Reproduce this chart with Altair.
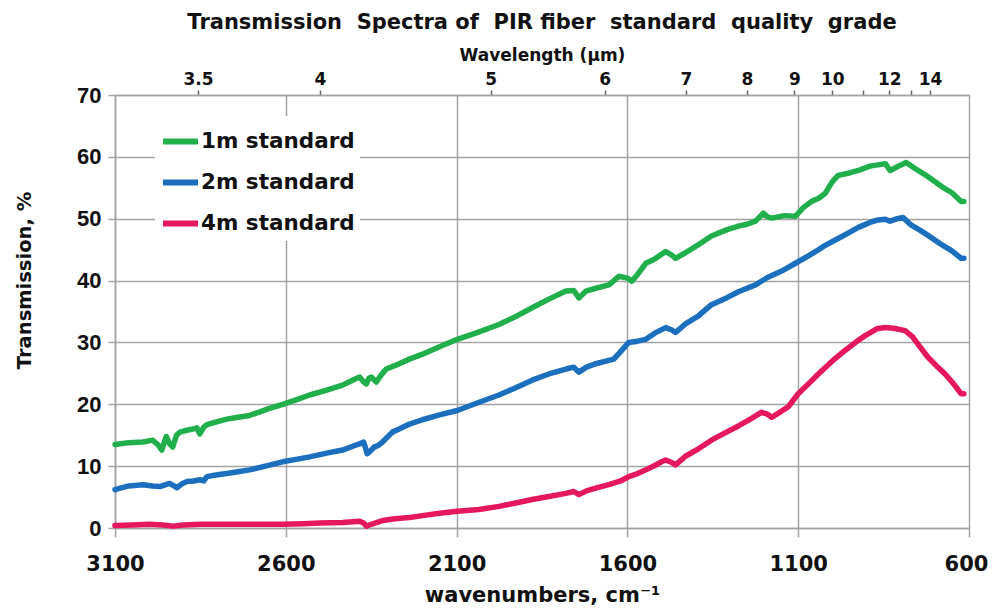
import altair as alt
import pandas as pd

# ---------------- data ----------------
series_names = ["1m standard", "2m standard", "4m standard"]
series_colors = ["#20af4b", "#1b6fbe", "#e5185e"]

wn_1m = [3100, 3060, 3018, 2990, 2975, 2963, 2950, 2940, 2931, 2920, 2910, 2890, 2872, 2860, 2852,
         2840, 2831, 2800, 2773, 2740, 2706, 2680, 2650, 2609, 2570, 2530, 2480, 2434, 2400, 2384,
         2372, 2364, 2357, 2350, 2335, 2320, 2306, 2270, 2238, 2200, 2150, 2098, 2040, 1976, 1930,
         1879, 1830, 1780, 1757, 1742, 1721, 1690, 1654, 1625, 1600, 1587, 1570, 1546, 1520, 1488,
         1470, 1459, 1430, 1392, 1354, 1310, 1275, 1250, 1225, 1202, 1190, 1178, 1140, 1108, 1085,
         1061, 1040, 1021, 1000, 983, 950, 924, 890, 866, 845, 831, 810, 784, 760, 720, 680, 650, 623, 615]
t_1m = [13.5, 13.8, 13.9, 14.2, 13.5, 12.6, 14.8, 13.6, 13.1, 15.0, 15.5, 15.8, 16.0, 16.2, 15.2,
        16.3, 16.7, 17.2, 17.6, 17.9, 18.2, 18.7, 19.3, 20.0, 20.7, 21.5, 22.3, 23.1, 24.0, 24.4,
        23.6, 23.3, 24.2, 24.4, 23.6, 24.8, 25.7, 26.5, 27.3, 28.1, 29.3, 30.5, 31.6, 32.9, 34.1,
        35.6, 37.0, 38.3, 38.4, 37.2, 38.3, 38.8, 39.3, 40.7, 40.4, 39.9, 41.0, 42.8, 43.5, 44.7,
        44.1, 43.6, 44.5, 45.8, 47.2, 48.2, 48.8, 49.1, 49.6, 50.9, 50.3, 50.1, 50.5, 50.4, 51.8,
        52.8, 53.3, 54.1, 56.0, 57.0, 57.4, 57.8, 58.5, 58.7, 58.9, 57.8, 58.4, 59.1, 58.2, 56.8,
        55.2, 54.2, 52.8, 52.8]

wn_2m = [3100, 3060, 3018, 2990, 2969, 2940, 2930, 2919, 2905, 2890, 2870, 2852, 2840, 2831, 2800,
         2773, 2740, 2706, 2660, 2609, 2570, 2530, 2480, 2434, 2400, 2384, 2372, 2366, 2362, 2355,
         2341, 2330, 2317, 2288, 2268, 2238, 2200, 2150, 2098, 2040, 1976, 1930, 1879, 1830, 1780,
         1757, 1742, 1720, 1690, 1654, 1640, 1620, 1596, 1570, 1546, 1520, 1488, 1470, 1459, 1430,
         1392, 1354, 1310, 1275, 1225, 1190, 1150, 1108, 1070, 1040, 1021, 983, 950, 924, 890, 866,
         845, 831, 810, 793, 770, 745, 720, 680, 650, 623, 615]
t_2m = [6.2, 6.8, 7.0, 6.8, 6.7, 7.2, 6.9, 6.5, 7.1, 7.5, 7.6, 7.8, 7.6, 8.3, 8.6,
        8.8, 9.1, 9.4, 10.0, 10.7, 11.1, 11.5, 12.1, 12.6, 13.3, 13.6, 13.9, 12.8, 12.0, 12.3,
        13.1, 13.3, 13.9, 15.5, 16.0, 16.8, 17.5, 18.3, 19.0, 20.2, 21.5, 22.6, 23.9, 24.9, 25.7,
        26.0, 25.2, 26.0, 26.6, 27.1, 27.3, 28.5, 30.0, 30.2, 30.5, 31.5, 32.4, 32.0, 31.6, 33.0,
        34.3, 36.1, 37.2, 38.2, 39.3, 40.5, 41.5, 42.8, 44.0, 45.0, 45.7, 46.8, 47.8, 48.6, 49.4, 49.8,
        49.9, 49.6, 50.0, 50.2, 49.0, 48.2, 47.3, 45.8, 44.8, 43.6, 43.6]

wn_4m = [3100, 3050, 3000, 2960, 2930, 2900, 2850, 2800, 2750, 2700, 2650, 2609, 2550, 2500, 2434,
         2384, 2372, 2364, 2350, 2317, 2280, 2238, 2200, 2150, 2098, 2034, 1976, 1930, 1879, 1830,
         1780, 1757, 1742, 1720, 1690, 1654, 1620, 1596, 1570, 1546, 1520, 1500, 1488, 1470, 1459,
         1430, 1392, 1354, 1310, 1275, 1240, 1208, 1190, 1178, 1160, 1129, 1100, 1070, 1041, 1000,
         963, 930, 904, 870, 846, 820, 787, 765, 749, 720, 695, 670, 645, 623, 615]
t_4m = [0.4, 0.5, 0.6, 0.5, 0.3, 0.5, 0.6, 0.6, 0.6, 0.6, 0.6, 0.6, 0.7, 0.8, 0.9,
        1.1, 0.8, 0.3, 0.6, 1.2, 1.5, 1.7, 2.0, 2.4, 2.7, 3.0, 3.5, 4.0, 4.6, 5.1,
        5.6, 5.9, 5.4, 6.0, 6.5, 7.0, 7.6, 8.3, 8.8, 9.4, 10.1, 10.7, 11.0, 10.6, 10.2,
        11.6, 12.8, 14.2, 15.5, 16.5, 17.6, 18.7, 18.4, 17.9, 18.5, 19.6, 21.7, 23.3, 24.9, 27.0,
        28.7, 30.1, 31.1, 32.2, 32.4, 32.3, 31.9, 30.9, 29.7, 27.6, 26.2, 24.9, 23.3, 21.7, 21.7]

x_ticks = [3100, 2600, 2100, 1600, 1100, 600]
y_ticks = [0, 10, 20, 30, 40, 50, 60, 70]
wl_ticks = [3.5, 4, 5, 6, 7, 8, 9, 10, 11, 12, 13, 14]
wl_labels = ["3.5", "4", "5", "6", "7", "8", "9", "10", "", "12", "", "14"]

title_text = "Transmission\u00a0 Spectra of\u00a0 PIR fiber\u00a0 standard\u00a0 quality\u00a0 grade"

# ---------------- tables ----------------
rows = []
for name, wns, ts in zip(series_names, [wn_1m, wn_2m, wn_4m], [t_1m, t_2m, t_4m]):
    for w, t in zip(wns, ts):
        rows.append({"series": name, "wn": w, "T": t})
df = pd.DataFrame(rows)

wl_df = pd.DataFrame({"wl": wl_ticks, "wn": [10000.0 / l for l in wl_ticks]})

GRID = "#a3a3a3"
INK = "#111111"
F = "DejaVu Sans"
xscale = alt.Scale(domain=[600, 3100], reverse=True, nice=False, zero=False)

label_expr = ("[" + ",".join("'%s'" % s for s in wl_labels) + "][indexof(["
              + ",".join(str(l) for l in wl_ticks) + "], round(100000/datum.value)/10)]")

lines = alt.Chart(df).mark_line(strokeWidth=5.5, strokeJoin="round", strokeCap="round").encode(
    x=alt.X("wn:Q", scale=xscale,
            axis=alt.Axis(values=x_ticks, format="d", title="wavenumbers, cm⁻¹",
                          labelFlush=False, labelFont=F, labelFontSize=21,
                          labelFontWeight="bold", labelColor=INK, labelPadding=16,
                          labelOffset={"condition": {"test": "datum.value === 600", "value": -3},
                                       "value": 0},
                          tickSize=9, tickColor=GRID, domainColor=GRID, gridColor=GRID,
                          gridWidth=1.5, tickWidth=1.5, domainWidth=1.5,
                          titleFont=F, titleFontSize=21, titleFontWeight="bold",
                          titleColor=INK, titlePadding=10)),
    y=alt.Y("T:Q", scale=alt.Scale(domain=[0, 70], nice=False),
            axis=alt.Axis(values=y_ticks, title="Transmission, %",
                          labelFont="Liberation Sans", labelFontSize=22, labelFontWeight="bold",
                          labelColor=INK, labelPadding=7, tickSize=7, tickColor=GRID,
                          tickWidth=1.5, domainColor=GRID, domainWidth=1.5, gridColor=GRID,
                          gridWidth=1.5, titleFont=F, titleFontSize=19.5,
                          titleFontWeight="bold", titleColor=INK, titleX=-91, titleY=185,
                          titleAlign="center", titleBaseline="middle")),
    color=alt.Color("series:N", scale=alt.Scale(domain=series_names, range=series_colors),
                    legend=alt.Legend(title=None, orient="none", legendX=40, legendY=21,
                                      symbolType="stroke", symbolStrokeWidth=6, symbolSize=1225,
                                      labelFont=F, labelFontSize=21.5,
                                      labelFontWeight="bold", labelColor=INK, labelOffset=0,
                                      rowPadding=8, fillColor="white", padding=5)),
)

top = alt.Chart(wl_df).mark_point(opacity=0).encode(
    x=alt.X("wn:Q", scale=xscale,
            axis=alt.Axis(orient="top", values=[10000.0 / l for l in wl_ticks], grid=False,
                          labelExpr=label_expr, labelFlush=False, title="Wavelength (µm)",
                          labelFont=F, labelFontSize=17, labelFontWeight="bold",
                          labelColor=INK, labelPadding=2, tickSize=5, tickColor="#666",
                          tickWidth=1.5, domainColor=GRID, domainWidth=1.5,
                          titleFont=F, titleFontSize=17, titleFontWeight="bold",
                          titleColor=INK, titlePadding=6)),
)

chart = alt.layer(lines, top).resolve_scale(x="independent").properties(
    width=854, height=433,
    autosize=alt.AutoSizeParams(type="none"),
    padding={"left": 107, "top": 87, "right": 20, "bottom": 78},
    title=alt.TitleParams(title_text, font=F, fontSize=21, fontWeight="bold", color=INK,
                          anchor="middle", offset=13),
).configure_view(stroke=GRID, strokeWidth=1.5).configure(background="white")

chart.save("out.html", embed_options={"renderer": "svg", "actions": False})
